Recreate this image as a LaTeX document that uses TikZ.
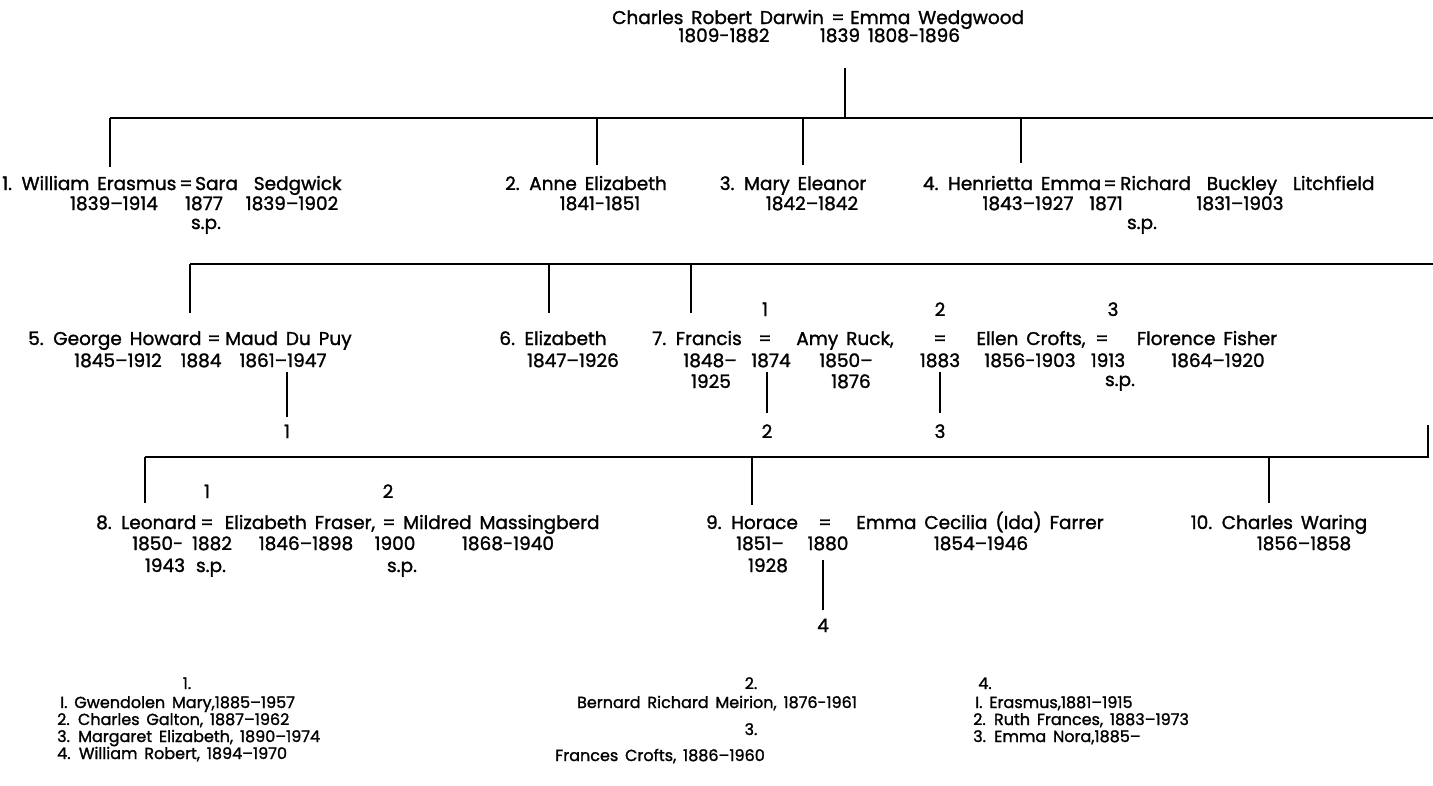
\documentclass[tikz,border=0pt]{standalone}
\usepackage{fontspec}
\setmainfont{Poppins}[WordSpace=1.6, FakeBold=1.4]
\newcommand\fs{\fontsize{18.5}{22}\selectfont}
\newcommand\fl{\fontsize{16}{19}\selectfont}
\tikzset{
  txt/.style={inner sep=0pt, anchor=base west, font=\fs},
  txc/.style={inner sep=0pt, anchor=base, font=\fs},
  txe/.style={inner sep=0pt, anchor=base east, font=\fs},
  lst/.style={inner sep=0pt, anchor=base west, font=\fl},
  lsc/.style={inner sep=0pt, anchor=base, font=\fl},
  ln/.style={line width=1.7pt, line cap=butt},
}
\begin{document}
\begin{tikzpicture}[x=1pt,y=-1pt]
\useasboundingbox (0,0) rectangle (1433,785);
% ---------- generation 0
\node[txt] (cd) at (612,24) {Charles Robert Darwin};
\node[txc] (cdeq) at (838,24) {=};
\node[txt] (ew) at (850,24) {Emma Wedgwood};
\node[txc] (cdd) at (724,42) {1809-1882};
\node[txc] (cdm) at (840,42) {1839};
\node[txc] (ewd) at (914,42) {1808-1896};
\coordinate (t0) at (845,68);
\coordinate (j0) at (845,118);
\draw[ln] (t0) -- (j0);
% ---------- sibling line 1
\coordinate (h1a) at (110,118);
\coordinate (h1b) at (1433,118);
\draw[ln] (h1a) -- (h1b);
\coordinate (d1) at (110,167);
\coordinate (j2) at (597,118) ; \coordinate (d2) at (597,165);
\coordinate (j3) at (803,118) ; \coordinate (d3) at (803,165);
\coordinate (j4) at (1021,118); \coordinate (d4) at (1021,163);
\draw[ln] (h1a) -- (d1);
\draw[ln] (j2) -- (d2);
\draw[ln] (j3) -- (d3);
\draw[ln] (j4) -- (d4);
% 1
\node[txt] (we) at (2,190) {1. William Erasmus};
\node[txc] (weq) at (186,190) {=};
\node[txt] (ss) at (195,190) {Sara\ \ Sedgwick};
\node[txc] (wed) at (114,210) {1839–1914};
\node[txc] (wem) at (204,210) {1877};
\node[txc] (ssd) at (292,210) {1839–1902};
\node[txc] (wesp) at (206,229) {s.p.};
% 2
\node[txc] (ae) at (586,190) {2. Anne Elizabeth};
\node[txc] (aed) at (600,210) {1841-1851};
% 3
\node[txc] (me) at (793,190) {3. Mary Eleanor};
\node[txc] (med) at (812,210) {1842–1842};
% 4
\node[txc] (he) at (1012,190) {4. Henrietta Emma};
\node[txc] (heq) at (1110,190) {=};
\node[txt] (rbl) at (1120,190) {Richard\ \ Buckley\ \ Litchfield};
\node[txc] (hed) at (1028,210) {1843–1927};
\node[txc] (hem) at (1106,210) {1871};
\node[txc] (rbld) at (1240,210) {1831–1903};
\node[txc] (hesp) at (1142,229) {s.p.};
% ---------- sibling line 2
\coordinate (h2a) at (190,264);
\coordinate (h2b) at (1433,264);
\draw[ln] (h2a) -- (h2b);
\coordinate (d5) at (190,313);
\coordinate (j6) at (549,264); \coordinate (d6) at (549,313);
\coordinate (j7) at (691,264); \coordinate (d7) at (691,313);
\draw[ln] (h2a) -- (d5);
\draw[ln] (j6) -- (d6);
\draw[ln] (j7) -- (d7);
% 5
\node[txt] (gh) at (28,345) {5. George Howard};
\node[txc] (gheq) at (214,345) {=};
\node[txt] (md) at (225,345) {Maud Du Puy};
\node[txc] (ghd) at (118,367) {1845–1912};
\node[txc] (ghm) at (201,367) {1884};
\node[txc] (mdd) at (283,367) {1861–1947};
\coordinate (g5a) at (287,372); \coordinate (g5b) at (287,417);
\draw[ln] (g5a) -- (g5b);
\node[txc] (g5n) at (287,438) {1};
% 6
\node[txc] (el) at (553,345) {6. Elizabeth};
\node[txc] (eld) at (573,367) {1847–1926};
% 7
\node[txc] (fr) at (697,345) {7. Francis};
\node[txe] (frd) at (737,367) {1848–};
\node[txc] (frd2) at (711,388) {1925};
\node[txc] (f1n) at (765,316) {1};
\node[txc] (f1eq) at (765,345) {=};
\node[txc] (f1m) at (771,367) {1874};
\coordinate (f1a) at (767,372); \coordinate (f1b) at (767,413);
\draw[ln] (f1a) -- (f1b);
\node[txc] (f1c) at (767,438) {2};
\node[txc] (ar) at (845,345) {Amy Ruck,};
\node[txc] (ard) at (846,367) {1850–};
\node[txc] (ard2) at (851,388) {1876};
\node[txc] (f2n) at (940,316) {2};
\node[txc] (f2eq) at (940,345) {=};
\node[txc] (f2m) at (940,367) {1883};
\coordinate (f2a) at (940,372); \coordinate (f2b) at (940,413);
\draw[ln] (f2a) -- (f2b);
\node[txc] (f2c) at (940,438) {3};
\node[txc] (ec) at (1031,345) {Ellen Crofts,};
\node[txc] (ecd) at (1030,367) {1856-1903};
\node[txc] (f3n) at (1113,316) {3};
\node[txc] (f3eq) at (1102,345) {=};
\node[txc] (f3m) at (1108,367) {1913};
\node[txc] (f3sp) at (1120,386) {s.p.};
\node[txc] (ff) at (1207,345) {Florence Fisher};
\node[txc] (ffd) at (1218,367) {1864–1920};
% ---------- sibling line 3
\coordinate (h3a) at (145,457);
\coordinate (h3b) at (1428,457);
\coordinate (h3c) at (1428,425);
\draw[ln] (h3a) -- (h3b) -- (h3c);
\coordinate (d8) at (145,503);
\coordinate (j9) at (752,457); \coordinate (d9) at (752,505);
\coordinate (j10) at (1269,457); \coordinate (d10) at (1269,503);
\draw[ln] (h3a) -- (d8);
\draw[ln] (j9) -- (d9);
\draw[ln] (j10) -- (d10);
% 8
\node[txc] (l1n) at (207,498) {1};
\node[txc] (l2n) at (388,498) {2};
\node[txt] (le) at (96,529) {8. Leonard};
\node[txc] (l1eq) at (207,529) {=};
\node[txc] (ef) at (300,529) {Elizabeth Fraser,};
\node[txc] (l2eq) at (389,529) {=};
\node[txt] (mm) at (403,529) {Mildred Massingberd};
\node[txt] (led) at (132,550) {1850-};
\node[txc] (l1m) at (212,550) {1882};
\node[txc] (efd) at (306,550) {1846–1898};
\node[txc] (l2m) at (395,550) {1900};
\node[txc] (mmd) at (508,550) {1868-1940};
\node[txc] (led2) at (165,572) {1943};
\node[txc] (l1sp) at (211,572) {s.p.};
\node[txc] (l2sp) at (402,572) {s.p.};
% 9
\node[txc] (ho) at (752,529) {9. Horace};
\node[txc] (hoeq) at (825,529) {=};
\node[txc] (ecf) at (980,529) {Emma Cecilia (Ida) Farrer};
\node[txc] (hod) at (760,550) {1851–};
\node[txc] (hom) at (828,550) {1880};
\node[txc] (hod2) at (768,572) {1928};
\node[txc] (ecfd) at (981,550) {1854–1946};
\coordinate (h9a) at (823,560); \coordinate (h9b) at (823,610);
\draw[ln] (h9a) -- (h9b);
\node[txc] (h9n) at (823,632) {4};
% 10
\node[txc] (cw) at (1279,529) {10. Charles Waring};
\node[txc] (cwd) at (1304,550) {1856–1858};
% ---------- grandchildren lists
\node[lsc] (gl1) at (187,689) {1.};
\node[lst] (gl1a) at (60,708) {I. Gwendolen Mary,1885–1957};
\node[lst] (gl1b) at (57,725) {2. Charles Galton, 1887–1962};
\node[lst] (gl1c) at (57,742) {3. Margaret Elizabeth, 1890–1974};
\node[lst] (gl1d) at (57,759) {4. William Robert, 1894–1970};
\node[lsc] (gl2) at (751,689) {2.};
\node[lsc] (gl2a) at (717,708) {Bernard Richard Meirion, 1876-1961};
\node[lsc] (gl3) at (751,735) {3.};
\node[lst] (gl3a) at (555,761) {Frances Crofts, 1886–1960};
\node[lsc] (gl4) at (985,689) {4.};
\node[lst] (gl4a) at (975,708) {I. Erasmus,1881–1915};
\node[lst] (gl4b) at (973,725) {2. Ruth Frances, 1883–1973};
\node[lst] (gl4c) at (973,742) {3. Emma Nora,1885–};
\end{tikzpicture}
\end{document}
